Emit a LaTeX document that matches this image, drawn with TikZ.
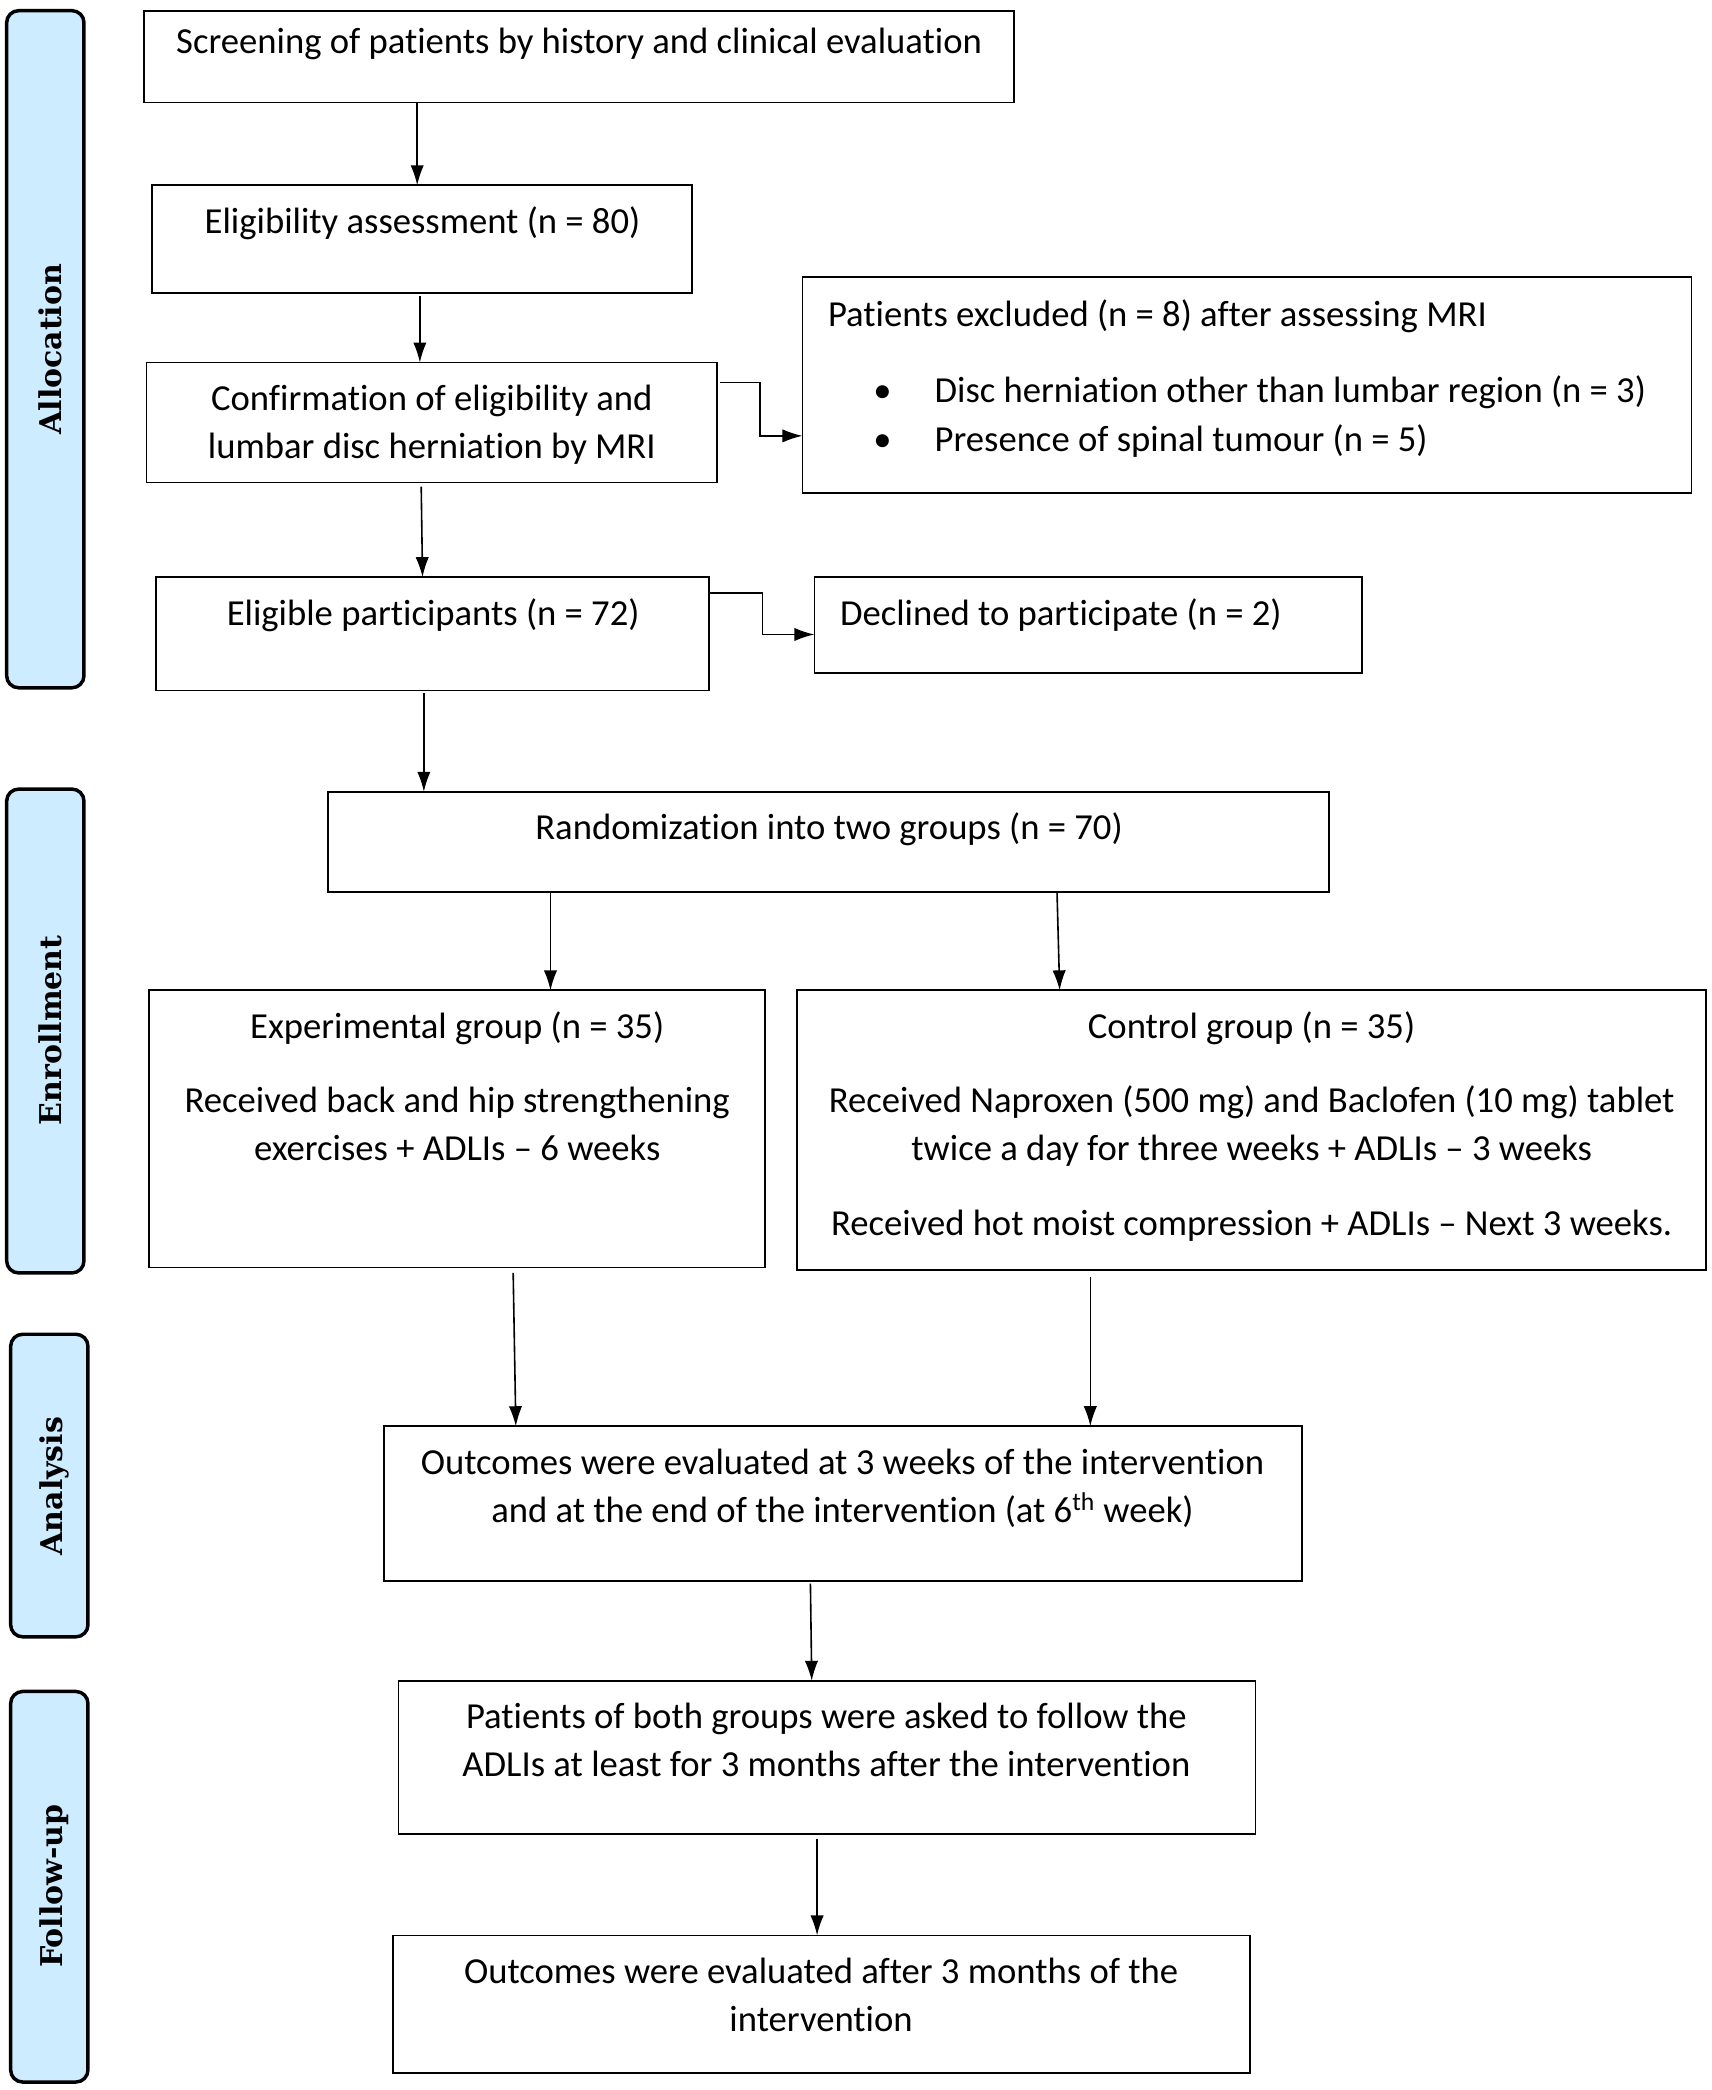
\documentclass[tikz,border=0pt]{standalone}
\usepackage{fontspec}
\setmainfont{Carlito}[Ligatures=NoCommon]
\newfontfamily\sidefamily{DejaVu Serif}
\usetikzlibrary{arrows.meta}
\definecolor{sideblue}{RGB}{206,236,255}
\newcommand{\maintxt}{\fontsize{27.5}{36}\selectfont}
\newcommand{\sidetxtfont}{\sidefamily\bfseries\fontsize{22.5}{26}\selectfont}
\tikzset{
  box/.style={draw, line width=1.3pt, anchor=north west, inner sep=0pt, outer sep=0pt},
  txt/.style={anchor=base, inner sep=0pt, font=\maintxt},
  ltxt/.style={anchor=base west, inner sep=0pt, font=\maintxt},
  sidebox/.style={draw, line width=2.6pt, fill=sideblue, rounded corners=9pt, anchor=north west, inner sep=0pt, outer sep=0pt},
  sidelabel/.style={rotate=90, inner sep=0pt, font=\sidetxtfont},
  arr/.style={-{Latex[length=15pt,width=10pt]}, line width=1.2pt}
}
\begin{document}
\begin{tikzpicture}[x=1pt,y=-1pt]
\useasboundingbox[fill=white] (0,0) rectangle (1284,1568);

% side labels
\node[sidebox, minimum width=58pt, minimum height=508pt] (sA) at (5,8) {};
\node[sidelabel] (sAt) at (38,262) {Allocation};
\node[sidebox, minimum width=58pt, minimum height=363pt] (sE) at (5,592) {};
\node[sidelabel] (sEt) at (38,773) {Enrollment};
\node[sidebox, minimum width=58pt, minimum height=227pt] (sN) at (8,1001) {};
\node[sidelabel] (sNt) at (41,1115) {Analysis};
\node[sidebox, minimum width=58pt, minimum height=293pt] (sF) at (8,1269) {};
\node[sidelabel] (sFt) at (41,1415) {Follow-up};

% boxes
\node[box, minimum width=653pt, minimum height=69pt] (scr) at (108,8) {};
\node[txt] (scrt) at (434.5,40) {Screening of patients by history and clinical evaluation};

\node[box, minimum width=405pt, minimum height=81pt] (elig) at (114,139) {};
\node[txt] (eligt) at (317,175) {Eligibility assessment (n = 80)};

\node[box, minimum width=428pt, minimum height=90pt] (conf) at (110,272) {};
\node[txt] (conft1) at (324,308) {Confirmation of eligibility and};
\node[txt] (conft2) at (324,344) {lumbar disc herniation by MRI};

\node[box, minimum width=667pt, minimum height=162pt] (excl) at (602,208) {};
\node[ltxt] (exclt) at (621,245) {Patients excluded (n = 8) after assessing MRI};
\node[txt] (exclb1) at (662,302) {•};
\node[ltxt] (excli1) at (701,302) {Disc herniation other than lumbar region (n = 3)};
\node[txt] (exclb2) at (662,339) {•};
\node[ltxt] (excli2) at (701,339) {Presence of spinal tumour (n = 5)};

\node[box, minimum width=415pt, minimum height=85pt] (elp) at (117,433) {};
\node[txt] (elpt) at (325,469) {Eligible participants (n = 72)};

\node[box, minimum width=411pt, minimum height=72pt] (decl) at (611,433) {};
\node[ltxt] (declt) at (630,469) {Declined to participate (n = 2)};

\node[box, minimum width=751pt, minimum height=75pt] (rand) at (246,594) {};
\node[txt] (randt) at (622,630) {Randomization into two groups (n = 70)};

\node[box, minimum width=462pt, minimum height=208pt] (exp) at (112,743) {};
\node[txt] (expt1) at (343,779) {Experimental group (n = 35)};
\node[txt] (expt2) at (343,835) {Received back and hip strengthening};
\node[txt] (expt3) at (343,871) {exercises + ADLIs – 6 weeks};

\node[box, minimum width=682pt, minimum height=210pt] (ctl) at (598,743) {};
\node[txt] (ctlt1) at (939,779) {Control group (n = 35)};
\node[txt] (ctlt2) at (939,835) {Received Naproxen (500 mg) and Baclofen (10 mg) tablet};
\node[txt] (ctlt3) at (939,871) {twice a day for three weeks + ADLIs – 3 weeks};
\node[txt] (ctlt4) at (939,927) {Received hot moist compression + ADLIs – Next 3 weeks.};

\node[box, minimum width=689pt, minimum height=116pt] (out1) at (288,1070) {};
\node[txt] (out1t1) at (632,1106) {Outcomes were evaluated at 3 weeks of the intervention};
\node[txt] (out1t2) at (632,1142) {and at the end of the intervention (at 6\textsuperscript{th} week)};

\node[box, minimum width=643pt, minimum height=115pt] (pat) at (299,1261) {};
\node[txt] (patt1) at (620,1297) {Patients of both groups were asked to follow the};
\node[txt] (patt2) at (620,1333) {ADLIs at least for 3 months after the intervention};

\node[box, minimum width=643pt, minimum height=103pt] (fin) at (295,1452) {};
\node[txt] (fint1) at (616,1488) {Outcomes were evaluated after 3 months of the};
\node[txt] (fint2) at (616,1524) {intervention};

% connectors
\draw[arr] ([xshift=205pt]scr.south west) -- ([xshift=199pt]elig.north west);
\draw[arr] ([xshift=201pt,yshift=-2pt]elig.south west) -- ([xshift=205pt]conf.north west);
\draw[arr] ([xshift=206pt,yshift=-3pt]conf.south west) -- ([xshift=200pt]elp.north west);
\draw[arr] ([xshift=2pt,yshift=-15pt]conf.north east) -- ++(30pt,0) |- ([yshift=-38pt]excl.west);
\draw[arr] ([xshift=1pt,yshift=-12pt]elp.north east) -- ++(39pt,0) |- ([yshift=-7pt]decl.west);
\draw[arr] ([xshift=201pt,yshift=-2pt]elp.south west) -- ([xshift=72pt]rand.north west);
\draw[arr] ([xshift=167pt]rand.south west) -- ([xshift=301pt]exp.north west);
\draw[arr] ([xshift=547pt]rand.south west) -- ([xshift=197pt]ctl.north west);
\draw[arr] ([xshift=273pt,yshift=-4pt]exp.south west) -- ([xshift=99pt]out1.north west);
\draw[arr] ([xshift=220pt,yshift=-5pt]ctl.south west) -- ([xshift=530pt]out1.north west);
\draw[arr] ([xshift=320pt,yshift=-2pt]out1.south west) -- ([xshift=310pt]pat.north west);
\draw[arr] ([xshift=314pt,yshift=-4pt]pat.south west) -- ([xshift=318pt]fin.north west);
\end{tikzpicture}
\end{document}
